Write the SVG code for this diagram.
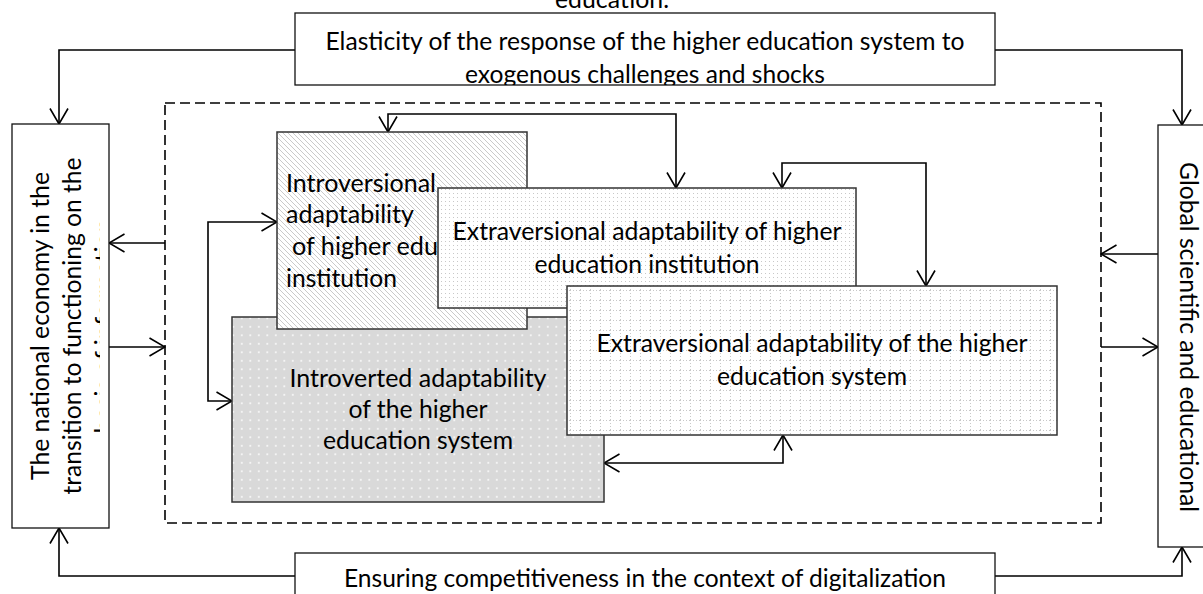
<svg xmlns="http://www.w3.org/2000/svg" width="1203" height="594" viewBox="0 0 1203 594">
<style>
text{font-family:"Lato","Open Sans","Liberation Sans",sans-serif;font-size:25px;fill:#000}
.box{fill:#fff;stroke:#111;stroke-width:1.3}
.node{stroke:#333;stroke-width:1.5}
.con{fill:none;stroke:#000;stroke-width:1.6}
.mid{text-anchor:middle}
</style>
<defs>
<marker id="ah" viewBox="0 0 17 20" refX="16" refY="10" markerWidth="17" markerHeight="20" markerUnits="userSpaceOnUse" orient="auto-start-reverse">
<path d="M0.5,1 L16,10 L0.5,19" fill="none" stroke="#000" stroke-width="1.6"/>
</marker>
<pattern id="hatch" width="5" height="5" patternUnits="userSpaceOnUse">
<rect width="5" height="5" fill="#fff"/>
<path d="M0,0 L5,5 M-1,4 L1,6 M4,-1 L6,1" stroke="#c4c4c4" stroke-width="0.9"/>
</pattern>
<pattern id="dotsC" width="4" height="4" patternUnits="userSpaceOnUse">
<rect width="4" height="4" fill="#fff"/>
<rect x="1" y="1" width="1" height="1" fill="#c8c8c8"/>
</pattern>
<pattern id="gridD" width="10" height="10" patternUnits="userSpaceOnUse">
<rect width="10" height="10" fill="#fff"/>
<path d="M0,0.5 H10 M0.5,0 V10" stroke="#c8c8c8" stroke-width="1" stroke-dasharray="1 2"/>
</pattern>
<pattern id="dotsB" width="8.5" height="8.5" patternUnits="userSpaceOnUse">
<rect width="8.5" height="8.5" fill="#d9d9d9"/>
<rect x="3" y="3" width="1.6" height="1.6" fill="#fff"/>
</pattern>
<clipPath id="clipTop"><rect x="295" y="13" width="700" height="72"/></clipPath>
<clipPath id="clipLeft"><rect x="12" y="124" width="88" height="404"/></clipPath>
<clipPath id="clipA"><rect x="277" y="132" width="161" height="197"/></clipPath>
</defs>
<rect width="1203" height="594" fill="#fff"/>

<text class="mid" x="612" y="8" textLength="114" lengthAdjust="spacingAndGlyphs">education.</text>

<g id="connectors">
<path class="con" d="M295,50 H59 V124" marker-end="url(#ah)"/>
<path class="con" d="M995,50 H1182 V125" marker-end="url(#ah)"/>
<path class="con" d="M295,576 H59 V528" marker-end="url(#ah)"/>
<path class="con" d="M995,576 H1182 V547" marker-end="url(#ah)"/>
<path class="con" d="M165,243 H109" marker-end="url(#ah)"/>
<path class="con" d="M109,347 H165" marker-end="url(#ah)"/>
<path class="con" d="M1158,254 H1101" marker-end="url(#ah)"/>
<path class="con" d="M1101,347 H1158" marker-end="url(#ah)"/>
<path class="con" d="M277,222 H208 V401 H232" marker-start="url(#ah)" marker-end="url(#ah)"/>
<path class="con" d="M388,132 V114 H676 V188" marker-start="url(#ah)" marker-end="url(#ah)"/>
<path class="con" d="M782,188 V163 H926 V286" marker-start="url(#ah)" marker-end="url(#ah)"/>
<path class="con" d="M604,463 H783 V435" marker-start="url(#ah)" marker-end="url(#ah)"/>
</g>

<g id="frame">
<rect x="165" y="103" width="936" height="420" fill="none" stroke="#000" stroke-width="1.6" stroke-dasharray="10 5"/>
</g>

<g id="top-box">
<rect class="box" x="295" y="13" width="700" height="72"/>
<g clip-path="url(#clipTop)">
<text class="mid" x="645" y="50" textLength="639" lengthAdjust="spacingAndGlyphs">Elasticity of the response of the higher education system to</text>
<text class="mid" x="645" y="83" textLength="360" lengthAdjust="spacingAndGlyphs">exogenous challenges and shocks</text>
</g>
</g>

<g id="left-box">
<rect class="box" x="12" y="124" width="97" height="404"/>
<g clip-path="url(#clipLeft)">
<g transform="rotate(-90)">
<text class="mid" x="-326" y="49" textLength="308" lengthAdjust="spacingAndGlyphs">The national economy in the</text>
<text class="mid" x="-326" y="81" textLength="337" lengthAdjust="spacingAndGlyphs">transition to functioning on the</text>
<text class="mid" x="-326" y="113" textLength="215" lengthAdjust="spacingAndGlyphs">basis of information</text>
</g>
</g>
</g>

<g id="right-box">
<rect class="box" x="1158" y="125" width="60" height="422"/>
<text class="mid" transform="rotate(90)" x="337" y="-1180" textLength="350" lengthAdjust="spacingAndGlyphs">Global scientific and educational</text>
</g>

<g id="bottom-box">
<rect class="box" x="295" y="553" width="700" height="60"/>
<text class="mid" x="645" y="587" textLength="602" lengthAdjust="spacingAndGlyphs">Ensuring competitiveness in the context of digitalization</text>
</g>

<g id="introverted-system">
<rect class="node" x="232" y="317" width="372" height="185" fill="url(#dotsB)"/>
<text class="mid" x="418" y="387" textLength="257" lengthAdjust="spacingAndGlyphs">Introverted adaptability</text>
<text class="mid" x="418" y="418" textLength="139" lengthAdjust="spacingAndGlyphs">of the higher</text>
<text class="mid" x="418" y="449" textLength="190" lengthAdjust="spacingAndGlyphs">education system</text>
</g>

<g id="introversional-hei">
<rect class="node" x="277" y="132" width="250" height="197" fill="url(#hatch)"/>
<g clip-path="url(#clipA)">
<text x="286" y="192" textLength="150" lengthAdjust="spacingAndGlyphs">Introversional</text>
<text x="286" y="223" textLength="128" lengthAdjust="spacingAndGlyphs">adaptability</text>
<text x="292" y="255" textLength="146" lengthAdjust="spacingAndGlyphs">of higher edu</text>
<text x="286" y="287" textLength="111" lengthAdjust="spacingAndGlyphs">institution</text>
</g>
</g>

<g id="extraversional-hei">
<rect class="node" x="438" y="188" width="418" height="120" fill="url(#dotsC)"/>
<text class="mid" x="647" y="240" textLength="389" lengthAdjust="spacingAndGlyphs">Extraversional adaptability of higher</text>
<text class="mid" x="647" y="273" textLength="225" lengthAdjust="spacingAndGlyphs">education institution</text>
</g>

<g id="extraversional-system">
<rect class="node" x="567" y="286" width="490" height="149" fill="url(#gridD)"/>
<text class="mid" x="812" y="352" textLength="431" lengthAdjust="spacingAndGlyphs">Extraversional adaptability of the higher</text>
<text class="mid" x="812" y="385" textLength="190" lengthAdjust="spacingAndGlyphs">education system</text>
</g>
</svg>
